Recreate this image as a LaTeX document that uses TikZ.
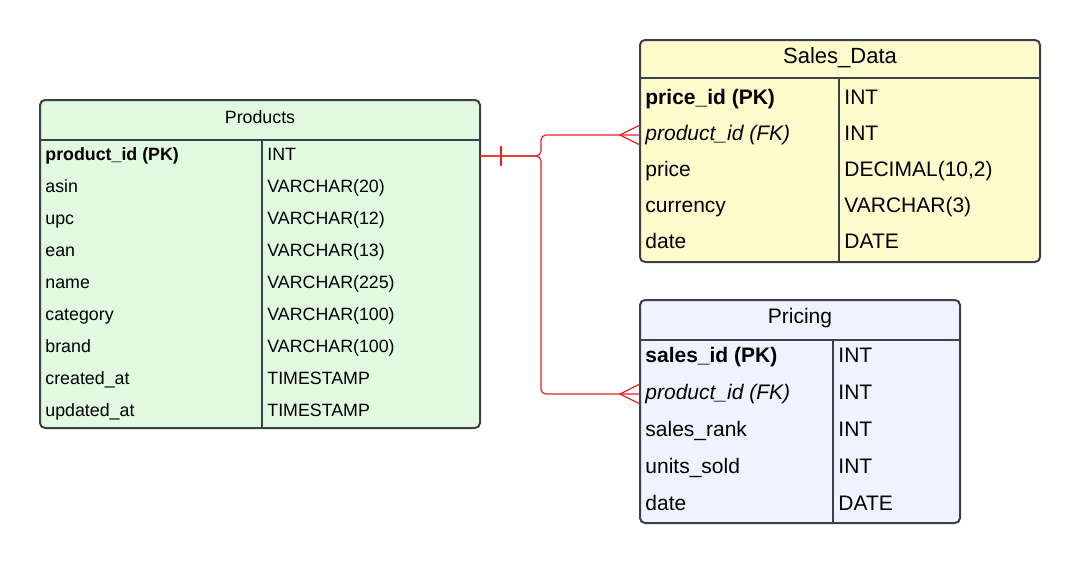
\documentclass[tikz,border=0pt]{standalone}
\usepackage{fontspec}
\setmainfont{Liberation Sans}
\usetikzlibrary{calc}
\definecolor{prodgreen}{HTML}{E1F9E1}
\definecolor{salesyellow}{HTML}{FEFBCC}
\definecolor{pricingblue}{HTML}{EDF4FF}
\definecolor{tableedge}{HTML}{3B4149}
\definecolor{relred}{HTML}{E32222}
\tikzset{
    tablebox/.style={draw=tableedge, line width=1pt, rounded corners=2.5pt},
    tablegrid/.style={draw=tableedge, line width=1pt},
    cell/.style={anchor=base west, inner sep=0pt},
    smallfont/.style={font=\fontsize{8.9}{10.5}\selectfont},
    largefont/.style={font=\fontsize{10.5}{12}\selectfont},
    relline/.style={draw=relred, line width=0.6pt}
}
\begin{document}
\begin{tikzpicture}[x=0.5pt, y=-0.5pt]
    \useasboundingbox (0,0) rectangle (1080,564);
    % Products
    \filldraw[tablebox, fill=prodgreen]
        (40,100) rectangle (480,428);
    \draw[tablegrid]
        (40,140) -- (480,140)
        (262,140) -- (262,428);
    \node[smallfont] (prodtitle) at (260,117) {Products};
    \node[cell, smallfont] (prodpkname) at (45,160) {\textbf{product\_id (PK)}};
    \node[cell, smallfont] (prodpktype) at (267,160) {INT};
    \foreach \fname/\ftype [count=\i] in {asin/VARCHAR(20), upc/VARCHAR(12),
        ean/VARCHAR(13), name/VARCHAR(225), category/VARCHAR(100),
        brand/VARCHAR(100), created\_at/TIMESTAMP, updated\_at/TIMESTAMP}
    {
        \node[cell, smallfont] (prodname\i) at (45,160+32*\i) {\fname};
        \node[cell, smallfont] (prodtype\i) at (267,160+32*\i) {\ftype};
    }
    \coordinate (prodpk) at (480,156);

    % Sales_Data
    \filldraw[tablebox, fill=salesyellow]
        (640,40) rectangle (1040,262);
    \draw[tablegrid]
        (640,78) -- (1040,78)
        (839,78) -- (839,262);
    \node[font=\fontsize{11}{13}\selectfont] (salestitle) at (840,58) {Sales\_Data};
    \foreach \fname/\ftype [count=\i from 0] in {\textbf{price\_id (PK)}/INT,
        \textit{product\_id (FK)}/INT, price/{DECIMAL(10,2)},
        currency/VARCHAR(3), date/DATE}
    {
        \node[cell, largefont] (salesname\i) at (645,104+36*\i) {\fname};
        \node[cell, largefont] (salestype\i) at (844,104+36*\i) {\ftype};
    }
    \coordinate (salesfk) at (640,135);

    % Pricing
    \filldraw[tablebox, fill=pricingblue]
        (640,300) rectangle (960,523);
    \draw[tablegrid]
        (640,340) -- (960,340)
        (833,340) -- (833,523);
    \node[largefont] (pricetitle) at (800,318) {Pricing};
    \foreach \fname/\ftype [count=\i from 0] in {\textbf{sales\_id (PK)}/INT,
        \textit{product\_id (FK)}/INT, sales\_rank/INT,
        units\_sold/INT, date/DATE}
    {
        \node[cell, largefont] (pricename\i) at (645,362+37*\i) {\fname};
        \node[cell, largefont] (pricetype\i) at (838,362+37*\i) {\ftype};
    }
    \coordinate (pricefk) at (640,394);

    % relations
    \draw[relline, rounded corners=2.5pt]
        (prodpk) -- (541,156) -- (541,135) -- (salesfk);
    \draw[relline, rounded corners=2.5pt]
        (prodpk) -- (541,156) -- (541,394) -- (pricefk);
    \draw[relline]
        ($(prodpk)+(21,-10)$) -- ($(prodpk)+(21,10)$);
    \draw[relline]
        ($(salesfk)+(0,-10)$) -- ($(salesfk)+(-20,0)$) -- ($(salesfk)+(0,10)$)
        ($(pricefk)+(0,-10)$) -- ($(pricefk)+(-20,0)$) -- ($(pricefk)+(0,10)$);
\end{tikzpicture}
\end{document}
